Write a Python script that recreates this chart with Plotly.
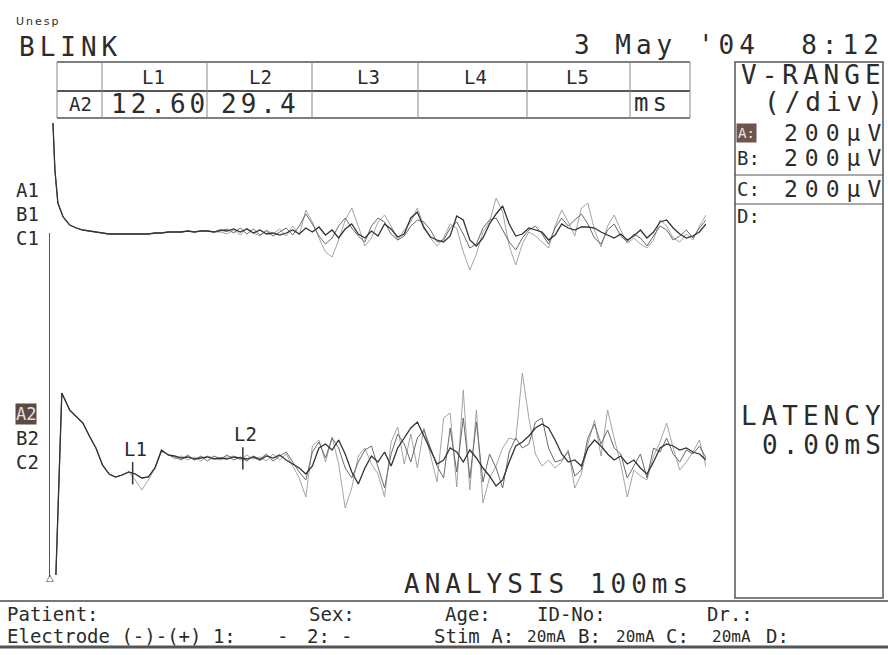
import numpy as np
import plotly.graph_objects as go

# ---------------- data ----------------
time_upper_ms = [0.45, 0.75, 1.2] + list(range(2, 101))
upper_a_uv = [545, 310, 145,
    75, 35, 20, 10, 5, 0, -5, -10, -10, -10,
    -10, -10, -10, -10, -5, -5, 0, 0, 0, 5,
    0, 5, 5, 0, 10, 5, 15, 0, 15, -5,
    10, -10, -5, -15, -5, 10, -10, 20, 0, 25,
    -15, 10, -30, 15, 40, -10, -30, 5, -20, 40,
    15, -25, -10, 70, 100, 20, -25, -40, -50, -20,
    80, 60, -40, -70, -30, 40, 90, 130, 40, -20,
    -10, 20, 10, 0, -40, -15, 40, 20, 10, 25,
    25, 20, 0, -15, -30, -10, -40, -20, 10, -30,
    0, 50, 60, 20, -10, -30, -20, 0, 40]
upper_b_uv = [545, 310, 145,
    75, 35, 20, 10, 5, 0, -5, -10, -10, -10,
    -10, -10, -10, -10, -5, -5, 0, 0, 0, 5,
    0, 5, 5, 0, 5, 15, -5, 20, -10, 15,
    -15, 5, -20, 0, 20, -15, 30, 90, 40, -20,
    -60, -30, 30, 70, 20, -20, -50, 30, 70, 50,
    -10, -40, -20, 30, 60, 50, 10, -50, -40, 20,
    50, -10, -80, -60, 20, 60, 70, 10, -50, -90,
    -30, 10, 30, -10, -60, 20, 70, 30, 60, 90,
    40, -30, -60, 10, 40, -20, -50, -10, -30, -70,
    -20, 30, 10, -40, -20, 10, -30, 20, 60]
upper_c_uv = [545, 310, 145,
    75, 35, 20, 10, 5, 0, -5, -10, -10, -10,
    -10, -10, -10, -10, -5, -5, 0, 0, 0, 5,
    0, 5, 5, 0, 0, -10, 10, -15, 20, -5,
    -20, 10, -10, 15, -20, 30, -15, 110, 50, -30,
    -100, -125, -40, 60, 120, 30, -70, -30, 50, 85,
    30, -40, 10, 50, 120, 30, -30, -70, -30, 40,
    20, -100, -190, -110, 0, 50, 170, 100, -70, -165,
    -60, 0, -20, -50, -80, 30, 110, 50, -20, 120,
    145, 10, -75, 30, 85, 10, -55, -30, -60, -80,
    -40, 60, 30, -30, -50, -10, -40, 30, 85]

time_lower_ms = [0.9, 1.8] + list(range(3, 101))
lower_a_uv = [-585, 325,
    240, 210, 175, 110, 50, -35, -80, -95, -85, -70,
    -80, -100, -95, -50, 40, 15, 10, 0, 5, -5,
    0, 5, -5, 0, -5, 5, 0, -5, 5, -10,
    10, 0, 15, -10, -30, -50, -80, -40, 50, 70,
    40, 90, 20, -70, -130, -50, 10, -20, 30, -40,
    50, 100, 150, 180, 110, 40, -30, -10, 50, 30,
    -20, 40, 0, -50, -90, -140, -110, -20, 60, 80,
    110, 150, 170, 150, 90, 20, -20, -10, -40, 50,
    90, 60, 20, -10, 10, -30, -10, -50, -80, -20,
    50, 70, 60, 40, 50, 30, 20, -10]
lower_b_uv = [-585, 325,
    240, 210, 175, 110, 50, -35, -80, -95, -85, -70,
    -80, -100, -95, -50, 40, 15, 5, -10, 15, -10,
    10, -15, 10, -5, 15, -10, 5, -15, 10, -5,
    20, -15, 10, 30, -20, -70, -110, 30, 80, 0,
    100, 50, -50, -100, -20, 40, 60, -40, -150, 20,
    120, 70, -20, 100, 140, 50, -40, -100, 150, -70,
    200, -100, 180, -120, 20, -50, -150, 30, 100, 50,
    70, 180, 200, 50, -20, -10, 30, -90, -60, 100,
    170, 70, 140, 50, 20, -100, -40, 20, -100, 50,
    30, 100, 20, -20, 40, 20, 60, 0]
lower_c_uv = [-585, 325,
    240, 210, 175, 110, 50, -35, -80, -95, -85, -70,
    -110, -160, -110, -50, 30, 20, -5, 10, -10, 5,
    -15, 10, 0, -10, 5, 10, -10, 15, -5, 5,
    -15, 20, -10, 20, -40, -100, -195, 60, 90, -20,
    105, -30, -250, -150, 10, 50, -30, -80, -195, 80,
    155, -30, 120, -50, 150, 10, -120, 200, 225, -145,
    340, -160, 240, -225, -100, -40, 50, 100, 90, 425,
    200, 20, -40, -10, -50, -20, 40, -150, -80, 70,
    190, 10, 240, 100, -30, -195, -60, -90, -110, 10,
    80, 175, 50, -60, -20, 30, 90, -45]

latency_names = ["L1", "L2", "L3", "L4", "L5"]
latency_text = ["12.60", "29.4", "", "", ""]
latency_ms = [12.60, 29.4]
vrange_channels = ["A:", "B:", "C:", "D:"]
vrange_values = ["200µV", "200µV", "200µV", ""]
upper_labels = ["A1", "B1", "C1"]
lower_labels = ["A2", "B2", "C2"]
stim_values = ["20mA", "20mA", "20mA"]

# ---------------- helpers ----------------
W, H = 888, 655
def px(x):
    return x / W
def py(y):
    return 1 - y / H

MONO = "DejaVu Sans Mono"
INK = "#2b2b2b"
def big(t, sp=5):
    return '<span style="letter-spacing:%dpx">%s</span>' % (sp, t)

fig = go.Figure()

trace_styles = [("#9a9a9a", 0.9), ("#6a6a6a", 1.0), ("#333333", 1.3)]
for (col, w), ys in zip(trace_styles, [upper_c_uv, upper_b_uv, upper_a_uv]):
    fig.add_trace(go.Scatter(x=time_upper_ms, y=ys, mode="lines", xaxis="x", yaxis="y",
                             line=dict(color=col, width=w), hoverinfo="skip", showlegend=False))
for (col, w), ys in zip(trace_styles, [lower_c_uv, lower_b_uv, lower_a_uv]):
    fig.add_trace(go.Scatter(x=time_lower_ms, y=ys, mode="lines", xaxis="x", yaxis="y2",
                             line=dict(color=col, width=w), hoverinfo="skip", showlegend=False))

lat_y = np.interp(latency_ms, time_lower_ms, lower_a_uv)
fig.add_trace(go.Scatter(x=latency_ms, y=lat_y, mode="markers", xaxis="x", yaxis="y2",
                         marker=dict(symbol="line-ns", size=16, line=dict(width=1.5, color="#333")),
                         hoverinfo="skip", showlegend=False))

ann = []
def A(text, x, y, size=19, xanchor="left", **kw):
    d = dict(text=text, x=px(x), y=py(y), xref="paper", yref="paper", xanchor=xanchor,
             yanchor="middle", showarrow=False, font=dict(family=MONO, size=size, color=INK))
    d.update(kw)
    ann.append(d)

# header
A(big("Unesp", 2), 14, 22, font=dict(family="DejaVu Sans", size=11, color=INK))
A(big("BLINK"), 17, 47, size=26)
A(big("3\u00a0May\u00a0'04\u00a0\u00a08:12"), 886, 45, size=26, xanchor="right")

# latency table
for name, cx in zip(latency_names, [153, 260, 368, 475, 577]):
    A(name, cx, 77, xanchor="center")
A("A2", 80, 104, xanchor="center")
for t, lx in zip(latency_text, [109, 219, 325, 430, 535]):
    if t:
        A(big(t, 4), lx, 104, size=26)
A(big("ms", 4), 632, 103, size=24)

# right panel
A(big("V-RANGE"), 888, 75, size=26, xanchor="right")
A(big("(/div)"), 762, 102, size=26)
for ch, val, yy in zip(vrange_channels, vrange_values, [133, 158, 189, 216]):
    if ch == "A:":
        A(ch, 736, yy, bgcolor="#6e544c", borderpad=1,
          font=dict(family=MONO, size=14, color="#efe8e4"))
    else:
        A(ch, 735, yy)
    if val:
        A(big(val, 7), 890, yy, size=23, xanchor="right")
A(big("LATENCY"), 888, 416, size=26, xanchor="right")
A(big("0.00mS"), 888, 445, size=26, xanchor="right")
A(big("ANALYSIS 100ms"), 402, 584, size=26)

# channel labels
for lab, yy in zip(upper_labels, [190, 214, 238]):
    A(lab, 14, yy)
for lab, yy in zip(lower_labels, [414, 438, 462]):
    if lab == "A2":
        A(lab, 15, yy, bgcolor="#5a4a45", borderpad=0,
          font=dict(family=MONO, size=17, color="#e6e0dc"))
    else:
        A(lab, 14, yy)

# footer
for t, x in [("Patient:", 5), ("Sex:", 307), ("Age:", 443), ("ID-No:", 535), ("Dr.:", 705)]:
    A(t, x, 614)
for t, x in [("Electrode\u00a0(-)-(+)\u00a01:", 5), ("-", 275), ("2:", 305), ("-", 339),
             ("Stim\u00a0A:", 432), ("B:", 576), ("C:", 664), ("D:", 764)]:
    A(t, x, 636)
for t, x in zip(stim_values, [525, 614, 710]):
    A(t, x, 636, size=16)

# latency markers on the trace
for name, lx, ly in zip(latency_names, latency_ms, lat_y):
    ann.append(dict(text=name, x=lx, y=ly, xref="x", yref="y2", showarrow=False,
                    xanchor="center", yanchor="middle", yshift=24, xshift=3,
                    font=dict(family=MONO, size=19, color=INK)))
ann.append(dict(text="△", x=0, y=0, xref="x", yref="y2 domain", showarrow=False,
                xanchor="center", yanchor="middle", font=dict(family="DejaVu Sans", size=10, color="#444")))

# ---------------- shapes ----------------
shapes = []
def L(x0, y0, x1, y1, w=1.2, c="#555"):
    shapes.append(dict(type="line", xref="paper", yref="paper", x0=px(x0), y0=py(y0),
                       x1=px(x1), y1=py(y1), line=dict(color=c, width=w)))
L(57, 62, 690, 62, 1.5)
L(57, 91, 690, 91, 2)
L(57, 118, 690, 118, 1.5)
for vx in [57, 102, 207, 312, 418, 527, 630, 690]:
    L(vx, 62, vx, 118, 1, "#888")
shapes.append(dict(type="rect", xref="paper", yref="paper", x0=px(735), x1=px(883),
                   y0=py(598), y1=py(62), line=dict(color="#555", width=1.5)))
L(735, 175, 883, 175, 1.2)
L(735, 204, 883, 204, 1.2)
L(0, 601, 888, 601, 2, "#777")
L(0, 647, 888, 647, 3, "#555")

fig.update_layout(
    width=W, height=H, margin=dict(l=0, r=0, t=0, b=0),
    paper_bgcolor="white", plot_bgcolor="rgba(0,0,0,0)",
    xaxis=dict(domain=[px(50), px(706)], range=[0, 100], visible=False),
    yaxis=dict(domain=[py(340), py(118)], range=[-540, 570], visible=False, anchor="x"),
    yaxis2=dict(domain=[py(577), py(233)], range=[-595, 1125], anchor="x",
                showline=True, linecolor="#555", linewidth=1.2, showgrid=False,
                zeroline=False, showticklabels=False, ticks=""),
    annotations=ann, shapes=shapes, showlegend=False,
)

fig.write_html("out.html", config={"displayModeBar": False},
               post_script="document.body.style.margin='0';document.body.style.overflow='hidden';")
